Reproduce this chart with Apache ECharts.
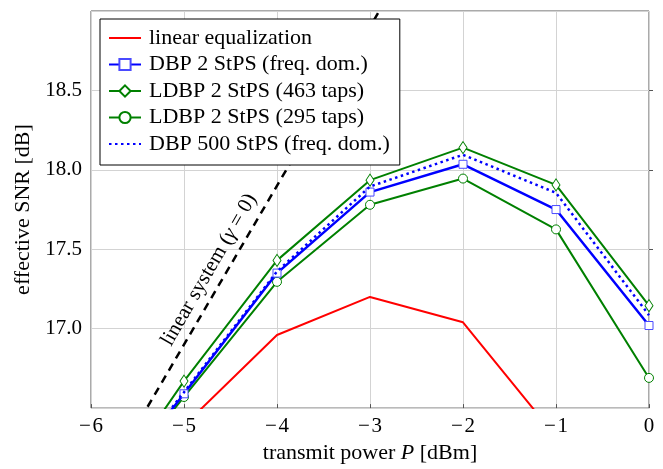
<!DOCTYPE html>
<html><head><meta charset="utf-8">
<script src="https://cdn.jsdelivr.net/npm/echarts@6/dist/echarts.min.js"></script>
<style>html,body{margin:0;padding:0;background:#fff}#c{width:663px;height:469px}</style>
</head><body><div id="c"></div>
<script>
// transmit power P [dBm]
const power = [-6, -5, -4, -3, -2, -1, 0];
// series values (effective SNR in dB)
const linearEqPower = [-5, -4, -3, -2, -1];
const linearEq      = [16.39, 16.96, 17.20, 17.04, 16.32];
const dbp2          = [15.84, 16.59, 17.35, 17.86, 18.035, 17.75, 17.02];
const ldbp463       = [15.82, 16.67, 17.43, 17.935, 18.14, 17.905, 17.145];
const ldbp295       = [15.85, 16.57, 17.295, 17.78, 17.945, 17.625, 16.69];
const dbp500        = [15.85, 16.60, 17.36, 17.895, 18.095, 17.855, 17.085];
const linearSysPower = [-6, -2];
const linearSys      = [15.9, 19.9];
// axis ticks
const xTicks = [-6, -5, -4, -3, -2, -1, 0];
const yTicks = [17.0, 17.5, 18.0, 18.5];

const FONT = "'Liberation Serif','Times New Roman',serif";
const zip = (xs, ys) => xs.map((x, i) => [x, ys[i]]);

const chart = echarts.init(document.getElementById('c'), null, {renderer: 'canvas'});
chart.setOption({
  animation: false,
  backgroundColor: '#fff',
  textStyle: {fontFamily: FONT},
  grid: {left: 91, right: 14, top: 11, bottom: 51, show: true, borderColor: '#555', borderWidth: 1, containLabel: false},
  legend: {
    orient: 'vertical', left: 100, top: 19,
    padding: [8, 10, 10, 8],
    backgroundColor: '#fff', borderColor: '#000', borderWidth: 1, borderRadius: 0,
    itemWidth: 32, itemHeight: 14, itemGap: 4.5,
    textStyle: {fontFamily: FONT, fontSize: 22, color: '#000', lineHeight: 22, padding: [0, 0, 0, 3]},
    data: [
      {name: 'linear equalization', itemStyle: {opacity: 0}},
      {name: 'DBP 2 StPS (freq. dom.)'},
      {name: 'LDBP 2 StPS (463 taps)'},
      {name: 'LDBP 2 StPS (295 taps)'},
      {name: 'DBP 500 StPS (freq. dom.)', itemStyle: {opacity: 0}}
    ]
  },
  xAxis: {
    type: 'value', min: -6, max: 0, interval: 1,
    name: '{n|transmit power }{i|P}{n| [dBm]}', nameLocation: 'middle', nameGap: 30,
    nameTextStyle: {rich: {n: {fontFamily: FONT, fontSize: 22, color: '#000'}, i: {fontFamily: FONT, fontSize: 22, fontStyle: 'italic', color: '#000'}}},
    axisLine: {show: false},
    axisTick: {show: true, inside: true, length: 4, lineStyle: {color: '#555'}},
    axisLabel: {margin: 8, fontFamily: FONT, fontSize: 21, color: '#000',
      formatter: v => xTicks.includes(v) ? (v < 0 ? '\u2212\u200A' + Math.abs(v) : String(v)) : ''},
    splitLine: {show: true, lineStyle: {color: '#d3d3d3', width: 1}}
  },
  yAxis: {
    type: 'value', min: 16.5, max: 19.0, interval: 0.5,
    name: 'effective SNR [dB]', nameLocation: 'middle', nameGap: 49,
    nameTextStyle: {fontFamily: FONT, fontSize: 22, color: '#000'},
    axisLine: {show: false},
    axisTick: {show: true, inside: true, length: 4, lineStyle: {color: '#555'}},
    axisLabel: {margin: 9, fontFamily: FONT, fontSize: 21, color: '#000', showMinLabel: false, showMaxLabel: false,
      formatter: v => yTicks.some(t => Math.abs(t - v) < 1e-9) ? v.toFixed(1) : ''},
    splitLine: {show: true, lineStyle: {color: '#d3d3d3', width: 1}}
  },
  series: [
    {
      name: 'linear system', type: 'line', data: zip(linearSysPower, linearSys), clip: true,
      showSymbol: false, symbol: 'none', lineStyle: {color: '#000', width: 2.5, type: [8, 6]}, z: 1,
      markPoint: {
        symbol: 'circle', symbolSize: 0,
        data: [{coord: [-4.73, 17.37]}],
        label: {show: true, position: 'inside', rotate: 60, formatter: '{n|linear system (}{i|γ}{n| = 0)}',
          rich: {n: {fontFamily: FONT, fontSize: 21, color: '#000'}, i: {fontFamily: FONT, fontSize: 21, fontStyle: 'italic', color: '#000'}}}
      }
    },
    {
      name: 'linear equalization', type: 'line', data: zip(linearEqPower, linearEq), clip: true,
      symbol: 'none', lineStyle: {color: '#ff0000', width: 2}, itemStyle: {color: '#ff0000'}, z: 2
    },
    {
      name: 'LDBP 2 StPS (463 taps)', type: 'line', data: zip(power, ldbp463), clip: true,
      symbol: 'diamond', symbolSize: [8, 12], showAllSymbol: true,
      lineStyle: {color: '#008000', width: 2}, itemStyle: {color: '#fff', borderColor: '#008000', borderWidth: 1}, z: 3
    },
    {
      name: 'LDBP 2 StPS (295 taps)', type: 'line', data: zip(power, ldbp295), clip: true,
      symbol: 'circle', symbolSize: 9, showAllSymbol: true,
      lineStyle: {color: '#008000', width: 2}, itemStyle: {color: '#fff', borderColor: '#008000', borderWidth: 1}, z: 3
    },
    {
      name: 'DBP 2 StPS (freq. dom.)', type: 'line', data: zip(power, dbp2), clip: true,
      symbol: 'rect', symbolSize: 8, showAllSymbol: true,
      lineStyle: {color: '#0000ff', width: 2.5}, itemStyle: {color: '#fff', borderColor: '#4a4aff', borderWidth: 1}, z: 4
    },
    {
      name: 'DBP 500 StPS (freq. dom.)', type: 'line', data: zip(power, dbp500), clip: true,
      symbol: 'none', lineStyle: {color: '#0000ff', width: 2.5, type: [2.5, 3.5]}, itemStyle: {color: '#0000ff'}, z: 5
    }
  ]
});
</script></body></html>
